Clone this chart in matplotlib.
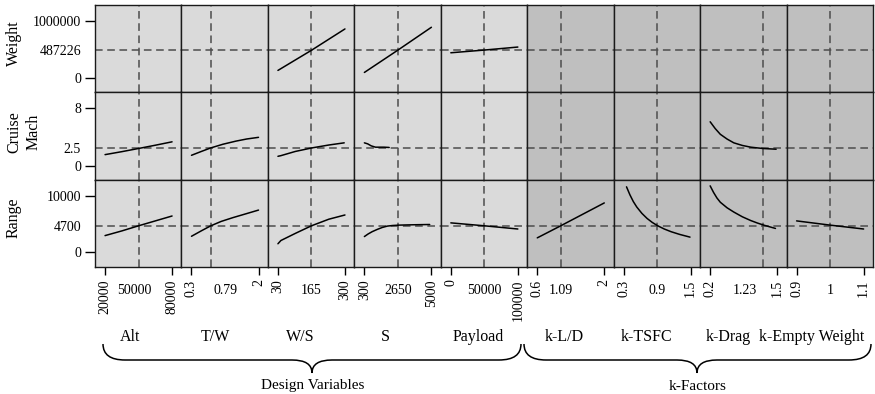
import matplotlib
matplotlib.use("Agg")
import matplotlib.pyplot as plt
from matplotlib.path import Path
from matplotlib.patches import PathPatch

plt.rcParams['font.family'] = ['Liberation Serif', 'DejaVu Serif']

# ---- factors (columns) ----
factor_names = ["Alt", "T/W", "W/S", "S", "Payload", "k-L/D", "k-TSFC", "k-Drag", "k-Empty Weight"]
factor_lo = [20000, 0.3, 30, 300, 0, 0.6, 0.3, 0.2, 0.9]
factor_mid = [50000, 0.79, 165, 2650, 50000, 1.09, 0.9, 1.23, 1.0]
factor_hi = [80000, 2.0, 300, 5000, 100000, 2.0, 1.5, 1.5, 1.1]
factor_lo_lbl = ["20000", "0.3", "30", "300", "0", "0.6", "0.3", "0.2", "0.9"]
factor_mid_lbl = ["50000", "0.79", "165", "2650", "50000", "1.09", "0.9", "1.23", "1"]
factor_hi_lbl = ["80000", "2", "300", "5000", "100000", "2", "1.5", "1.5", "1.1"]
factor_mid_lbl_at = [46000, 1.16, 165, 2650, 50000, 1.09, 0.9, 0.87, 1.0]
n_design = 5

# ---- responses (rows) ----
response_names = ["Weight", "Cruise\nMach", "Range"]
response_base = [487226, 2.4, 4700]
response_tick_lo = [0, 0, 0]
response_tick_hi = [1000000, 8, 10000]
response_tick_mid = [487226, 2.5, 4700]
response_tick_lbl = [("0", "487226", "1000000"), ("0", "2.5", "8"), ("0", "4700", "10000")]
response_ylim = [(-240000, 1270000), (-1.92, 10.15), (-2665, 12840)]

# ---- profile curves ----
weight_ws_x = [30, 165, 300]
weight_ws_y = [139000, 487000, 856000]
weight_s_x = [300, 2650, 5000]
weight_s_y = [104000, 490000, 885000]
weight_payload_x = [0, 50000, 100000]
weight_payload_y = [444000, 491000, 543000]

mach_alt_x = [20000, 35000, 50000, 65000, 80000]
mach_alt_y = [1.54, 1.95, 2.39, 2.84, 3.31]
mach_tw_x = [0.3, 0.55, 0.79, 1.1, 1.43, 1.7, 2.0]
mach_tw_y = [1.45, 1.98, 2.47, 2.98, 3.41, 3.70, 3.93]
mach_ws_x = [30, 42, 100, 167, 235, 297]
mach_ws_y = [1.31, 1.40, 1.98, 2.47, 2.87, 3.17]
mach_s_x = [300, 530, 780, 1080, 1680, 2040]
mach_s_y = [3.17, 3.03, 2.75, 2.57, 2.57, 2.53]
mach_drag_x = [0.2, 0.298, 0.397, 0.529, 0.659, 0.824, 0.988, 1.22, 1.48]
mach_drag_y = [6.08, 5.14, 4.35, 3.69, 3.17, 2.81, 2.57, 2.39, 2.29]

range_alt_x = [20000, 35000, 50000, 65000, 80000]
range_alt_y = [2910, 3740, 4650, 5520, 6390]
range_tw_x = [0.3, 0.55, 0.79, 1.05, 1.35, 1.7, 2.0]
range_tw_y = [2790, 3760, 4650, 5420, 6100, 6820, 7440]
range_ws_x = [30, 42, 100, 165, 235, 300]
range_ws_y = [1460, 2040, 3300, 4650, 5820, 6570]
range_s_x = [300, 563, 848, 1204, 1560, 1917, 2270, 2740, 3700, 4880]
range_s_y = [2740, 3200, 3610, 4010, 4360, 4600, 4700, 4770, 4830, 4880]
range_payload_x = [0, 50000, 100000]
range_payload_y = [5170, 4650, 4080]
range_ld_x = [0.6, 1.09, 2.0]
range_ld_y = [2510, 4650, 8710]
range_tsfc_x = [0.35, 0.411, 0.472, 0.534, 0.626, 0.719, 0.811, 0.904, 1.026, 1.149, 1.302, 1.487]
range_tsfc_y = [11570, 10150, 8950, 7980, 6850, 5950, 5250, 4680, 4080, 3600, 3120, 2640]
range_drag_x = [0.2, 0.266, 0.332, 0.397, 0.529, 0.659, 0.824, 0.988, 1.12, 1.25, 1.467]
range_drag_y = [11740, 10570, 9580, 8830, 7840, 7090, 6250, 5580, 5130, 4740, 4180]
range_ew_x = [0.9, 1.0, 1.1]
range_ew_y = [5520, 4770, 4080]

curves = {
    (0, 2): (weight_ws_x, weight_ws_y),
    (0, 3): (weight_s_x, weight_s_y),
    (0, 4): (weight_payload_x, weight_payload_y),
    (1, 0): (mach_alt_x, mach_alt_y),
    (1, 1): (mach_tw_x, mach_tw_y),
    (1, 2): (mach_ws_x, mach_ws_y),
    (1, 3): (mach_s_x, mach_s_y),
    (1, 7): (mach_drag_x, mach_drag_y),
    (2, 0): (range_alt_x, range_alt_y),
    (2, 1): (range_tw_x, range_tw_y),
    (2, 2): (range_ws_x, range_ws_y),
    (2, 3): (range_s_x, range_s_y),
    (2, 4): (range_payload_x, range_payload_y),
    (2, 5): (range_ld_x, range_ld_y),
    (2, 6): (range_tsfc_x, range_tsfc_y),
    (2, 7): (range_drag_x, range_drag_y),
    (2, 8): (range_ew_x, range_ew_y),
}

group_names = ["Design Variables", "k-Factors"]

# ---- figure layout (pixel based) ----
W, H = 875, 394
fig = plt.figure(figsize=(W / 100, H / 100), dpi=100)
left_px, right_px, top_px, bottom_px = 95, 873, 5, 267
ncol, nrow = len(factor_names), len(response_names)
cw = (right_px - left_px) / ncol
rh = (bottom_px - top_px) / nrow

light_bg = "#dadada"
dark_bg = "#bfbfbf"
dash_color = "#4d4d4d"
dash_style = (0, (5, 3))
tick_fs = 10

for r in range(nrow):
    for c in range(ncol):
        x0 = left_px + c * cw
        y1 = top_px + (r + 1) * rh
        ax = fig.add_axes([x0 / W, 1 - y1 / H, cw / W, rh / H])
        ax.set_facecolor(light_bg if c < n_design else dark_bg)
        lo, hi = factor_lo[c], factor_hi[c]
        span = hi - lo
        ax.set_xlim(lo - 0.15 * span, hi + 0.14 * span)
        ax.set_ylim(*response_ylim[r])
        ax.axvline(factor_mid[c], color=dash_color, lw=1.1, ls=dash_style, zorder=1)
        ax.axhline(response_base[r], color=dash_color, lw=1.1, ls=dash_style, zorder=1)
        if (r, c) in curves:
            xs, ys = curves[(r, c)]
            ax.plot(xs, ys, color="black", lw=1.1, zorder=3,
                    solid_joinstyle="round", solid_capstyle="round")
        for sp in ax.spines.values():
            sp.set_color("#1a1a1a")
            sp.set_linewidth(1.0)

        if r == nrow - 1:
            ax.set_xticks([lo, hi], labels=[factor_lo_lbl[c], factor_hi_lbl[c]])
            ax.set_xticks([factor_mid_lbl_at[c]], labels=[factor_mid_lbl[c]], minor=True)
            ax.tick_params(axis="x", which="major", length=6, width=1, pad=3,
                           labelrotation=90, labelsize=tick_fs)
            ax.tick_params(axis="x", which="minor", length=0, pad=12, labelsize=tick_fs)
        else:
            ax.set_xticks([])
            ax.set_xticks([], minor=True)

        if c == 0:
            lbl_lo, lbl_mid, lbl_hi = response_tick_lbl[r]
            ax.set_yticks([response_tick_lo[r], response_tick_hi[r]], labels=[lbl_lo, lbl_hi])
            ax.set_yticks([response_tick_mid[r]], labels=[lbl_mid], minor=True)
            ax.tick_params(axis="y", which="major", length=7, width=1, pad=3, labelsize=tick_fs)
            ax.tick_params(axis="y", which="minor", length=0, pad=10, labelsize=tick_fs)
        else:
            ax.set_yticks([])
            ax.set_yticks([], minor=True)

# ---- row titles ----
row_label_pos = [(14, 43), (24, 132), (14, 218)]
for name, (px, py) in zip(response_names, row_label_pos):
    fig.text(px / W, 1 - py / H, name, rotation=90, ha="center", va="center",
             fontsize=11.5, linespacing=1.3)

# ---- column titles ----
col_label_x = [130, 215, 300, 385, 478, 564, 647, 728, 812]
for name, px in zip(factor_names, col_label_x):
    fig.text(px / W, 1 - 337 / H, name, ha="center", va="center", fontsize=11.5)


# ---- curly braces grouping the factors ----
def brace(x0, x1, xm, ytop, ymid, ybot, r_end=22, r_tip=20):
    def P(x, y):
        return (x / W, 1 - y / H)
    verts = [P(x0, ytop), P(x0, ymid), P(x0 + r_end, ymid),
             P(xm - r_tip, ymid),
             P(xm, ymid), P(xm, ybot),
             P(xm, ymid), P(xm + r_tip, ymid),
             P(x1 - r_end, ymid),
             P(x1, ymid), P(x1, ytop)]
    codes = [Path.MOVETO, Path.CURVE3, Path.CURVE3,
             Path.LINETO,
             Path.CURVE3, Path.CURVE3,
             Path.CURVE3, Path.CURVE3,
             Path.LINETO,
             Path.CURVE3, Path.CURVE3]
    patch = PathPatch(Path(verts, codes), transform=fig.transFigure,
                      facecolor="none", edgecolor="black", lw=1.1)
    fig.patches.append(patch)


brace(103, 521, 312, 344, 360, 373)
brace(524, 871, 697, 344, 360, 373)

fig.text(313 / W, 1 - 386 / H, group_names[0], ha="center", va="center", fontsize=11)
fig.text(698 / W, 1 - 386 / H, group_names[1], ha="center", va="center", fontsize=11)

fig.savefig("out.png", dpi=100)
